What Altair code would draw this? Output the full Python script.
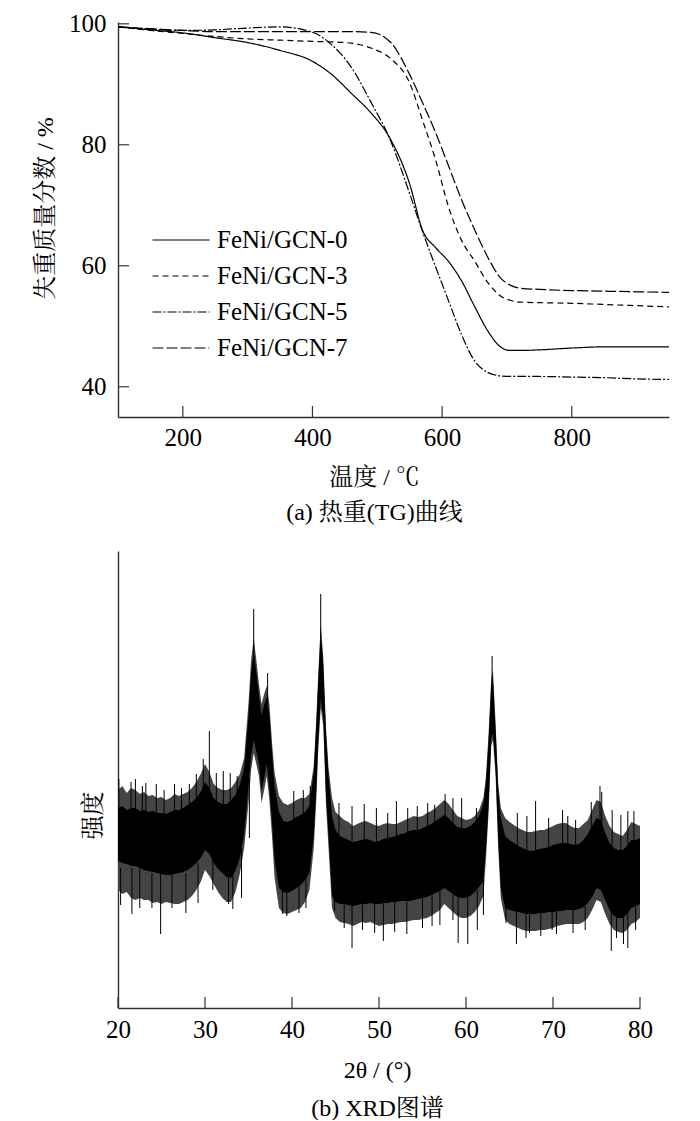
import altair as alt
import pandas as pd

FONT = "Liberation Serif, Times New Roman, Noto Serif CJK SC, Noto Sans CJK SC"

# ---------------- (a) TG curves ----------------
tg_temp = [100, 150, 200, 250, 300, 350, 400, 430, 460, 490, 520, 550, 570, 590,
           610, 630, 650, 670, 690, 705, 720, 750, 800, 850, 900, 950]
tg_gcn0 = [99.5, 99.0, 98.5, 97.7, 96.9, 95.6, 93.8, 91.6, 88.5, 85.3, 81.0, 73.5, 65.8, 63.0,
           60.7, 57.5, 53.3, 49.3, 46.6, 46.0, 46.0, 46.1, 46.4, 46.6, 46.6, 46.6]
tg_gcn3 = [99.5, 98.9, 98.4, 97.9, 97.5, 97.3, 97.1, 97.0, 96.8, 96.0, 94.3, 90.2, 84.0, 77.5,
           69.7, 64.2, 60.8, 57.3, 55.0, 54.3, 54.0, 53.9, 53.8, 53.6, 53.4, 53.2]
tg_gcn5 = [99.5, 99.1, 98.9, 99.0, 99.3, 99.5, 98.6, 96.5, 92.8, 87.1, 80.8, 71.9, 65.6, 59.8,
           54.2, 48.6, 44.3, 42.4, 41.8, 41.7, 41.7, 41.7, 41.6, 41.5, 41.3, 41.2]
tg_gcn7 = [99.5, 99.2, 98.9, 98.7, 98.7, 98.7, 98.7, 98.7, 98.7, 98.6, 97.0, 91.6, 86.9, 82.0,
           76.5, 70.9, 66.0, 61.5, 58.0, 56.8, 56.3, 56.1, 55.9, 55.8, 55.7, 55.6]
series_names = ["FeNi/GCN-0", "FeNi/GCN-3", "FeNi/GCN-5", "FeNi/GCN-7"]
dash_patterns = [[1, 0], [6, 4], [9, 2, 2, 2], [11, 3]]
tg_xticks = [200, 400, 600, 800]
tg_yticks = [40, 60, 80, 100]

# ---------------- (b) XRD pattern: noisy trace read as envelopes ----------------
# outer = tips of the noise whiskers, core = the solid black part of the trace
xrd_theta = [20.0, 20.5, 21.0, 21.5, 22.0, 22.5, 23.0, 23.5, 24.0, 24.5, 25.0, 25.5, 26.0, 26.5,
             27.0, 27.5, 28.0, 28.5, 29.0, 29.5, 30.0, 30.5, 31.0, 31.5, 32.0, 32.5, 33.0, 33.5,
             34.0, 34.5, 35.0, 35.3, 35.6, 35.9, 36.2, 36.5, 36.8, 37.1, 37.4, 37.7, 38.0, 38.5,
             39.0, 39.5, 40.0, 40.5, 41.0, 41.5, 42.0, 42.5, 42.8, 43.0, 43.3, 43.6, 43.9, 44.2,
             44.6, 45.0, 45.5, 46.0, 46.5, 47.0, 47.5, 48.0, 48.5, 49.0, 49.5, 50.0, 50.5, 51.0,
             51.5, 52.0, 52.5, 53.0, 53.5, 54.0, 54.5, 55.0, 55.5, 56.0, 56.5, 57.0, 57.5, 58.0,
             58.5, 59.0, 59.5, 60.0, 60.5, 61.0, 61.5, 62.0, 62.3, 62.6, 62.9, 63.1, 63.4, 63.7,
             64.0, 64.5, 65.0, 65.5, 66.0, 66.5, 67.0, 67.5, 68.0, 68.5, 69.0, 69.5, 70.0, 70.5,
             71.0, 71.5, 72.0, 72.5, 73.0, 73.5, 74.0, 74.5, 75.0, 75.5, 76.0, 76.5, 77.0, 77.5,
             78.0, 78.5, 79.0, 79.5, 80.0]
xrd_outer_top = [218, 222, 215, 220, 218, 214, 216, 212, 213, 210, 211, 208, 210, 214,
                 212, 214, 216, 220, 226, 234, 244, 236, 224, 220, 218, 218, 220, 226,
                 234, 250, 305, 348, 370, 348, 324, 304, 314, 322, 304, 266, 235, 212,
                 205, 203, 205, 208, 210, 210, 214, 242, 290, 330, 385, 350, 282, 240,
                 210, 196, 192, 188, 186, 182, 184, 186, 187, 185, 183, 182, 184, 185,
                 184, 184, 186, 188, 190, 192, 191, 192, 195, 197, 200, 204, 208, 204,
                 198, 192, 190, 188, 189, 192, 198, 210, 232, 275, 330, 338, 285, 225,
                 200, 190, 186, 183, 180, 178, 176, 176, 177, 178, 178, 180, 182, 184,
                 185, 185, 182, 180, 180, 184, 188, 198, 208, 206, 192, 182, 176, 174,
                 172, 178, 186, 184, 182]
xrd_outer_bottom = [118, 114, 116, 110, 108, 110, 108, 108, 105, 106, 104, 106, 105, 104,
                    104, 106, 108, 112, 118, 126, 138, 132, 124, 116, 110, 106, 106, 116,
                    134, 160, 205, 238, 255, 244, 232, 205, 218, 232, 208, 172, 130, 100,
                    95, 94, 96, 98, 100, 106, 118, 160, 210, 255, 300, 282, 205, 160,
                    100, 90, 86, 85, 84, 82, 84, 86, 85, 86, 84, 82, 83, 84,
                    84, 85, 86, 86, 87, 88, 88, 89, 90, 92, 95, 98, 104, 100,
                    96, 92, 90, 90, 92, 96, 102, 112, 150, 196, 262, 268, 232, 160,
                    110, 88, 84, 82, 80, 78, 77, 77, 77, 78, 78, 79, 80, 82,
                    83, 84, 84, 84, 84, 86, 90, 98, 108, 106, 94, 84, 78, 76,
                    75, 78, 84, 86, 90]
xrd_core_top = [200, 202, 198, 200, 200, 197, 198, 196, 197, 195, 195, 194, 196, 198,
                198, 200, 203, 206, 210, 216, 226, 220, 210, 206, 204, 204, 208, 213,
                223, 240, 292, 336, 356, 336, 313, 293, 303, 311, 293, 255, 222, 196,
                187, 186, 188, 191, 193, 196, 202, 235, 284, 324, 376, 342, 275, 232,
                192, 178, 172, 170, 168, 166, 167, 168, 169, 168, 166, 167, 169, 170,
                171, 172, 174, 175, 177, 178, 178, 180, 182, 184, 187, 190, 193, 190,
                185, 181, 180, 180, 182, 186, 192, 204, 226, 268, 322, 328, 278, 218,
                190, 172, 168, 165, 162, 160, 158, 157, 158, 159, 160, 161, 163, 164,
                165, 165, 164, 163, 164, 168, 174, 182, 190, 188, 175, 165, 160, 158,
                158, 162, 168, 168, 170]
xrd_core_bottom = [147, 145, 144, 142, 142, 140, 138, 137, 136, 135, 134, 133, 133, 134,
                   135, 136, 138, 141, 145, 150, 158, 154, 145, 139, 135, 131, 130, 137,
                   150, 174, 222, 252, 268, 256, 244, 217, 230, 244, 220, 186, 148, 120,
                   116, 115, 117, 120, 123, 128, 135, 172, 220, 264, 310, 290, 215, 172,
                   112, 106, 104, 104, 103, 102, 103, 104, 104, 105, 104, 104, 105, 105,
                   106, 106, 107, 107, 107, 108, 109, 110, 111, 113, 115, 117, 120, 117,
                   114, 111, 110, 110, 112, 116, 121, 127, 160, 204, 270, 275, 240, 170,
                   120, 100, 98, 97, 96, 95, 94, 94, 94, 95, 95, 96, 96, 97,
                   97, 98, 98, 98, 99, 101, 105, 111, 120, 118, 108, 98, 92, 90,
                   90, 94, 100, 102, 104]
spike_theta = [20.1, 21.5, 22.0, 22.8, 23.2, 24.4, 25.3, 26.5, 27.3, 28.2, 29.0, 29.8, 30.5,
               31.3, 32.1, 32.9, 33.7, 35.6, 37.2, 40.2, 41.3, 42.1, 43.3, 45.4, 46.9, 48.3,
               49.7, 51.0, 52.0, 53.3, 54.4, 55.6, 56.4, 57.6, 58.5, 59.5, 61.2, 63.0, 65.9,
               67.0, 68.0, 69.5, 71.1, 71.7, 72.6, 74.4, 75.4, 75.6, 76.8, 77.8, 78.6, 79.3,
               20.3, 21.6, 22.5, 23.9, 24.9, 26.2, 27.8, 29.2, 30.9, 32.7, 33.2, 34.2, 35.1,
               38.9, 39.4, 40.8, 41.6, 44.9, 46.0, 46.9, 48.1, 49.5, 50.5, 51.8, 53.2, 55.0,
               56.1, 57.0, 58.5, 59.1, 60.2, 61.3, 62.0, 64.6, 65.8, 66.9, 67.3, 68.6, 69.9,
               70.4, 72.3, 73.7, 76.7, 77.3, 78.1, 78.6, 79.5]
spike_from = [190, 190, 195, 190, 190, 185, 185, 185, 185, 190, 195, 210, 210,
              195, 190, 190, 200, 340, 300, 180, 185, 190, 370, 165, 160, 160,
              160, 160, 160, 165, 170, 175, 180, 185, 175, 170, 175, 320, 155,
              150, 150, 155, 160, 160, 160, 170, 180, 180, 160, 150, 155, 160,
              140, 140, 140, 135, 135, 135, 135, 145, 150, 140, 140, 160, 230,
              120, 120, 125, 130, 110, 110, 108, 108, 108, 108, 108, 110, 112,
              115, 118, 118, 112, 112, 118, 128, 105, 100, 98, 98, 98, 98,
              100, 100, 102, 100, 95, 94, 96, 104]
spike_to = [229, 226, 229, 222, 225, 224, 218, 224, 220, 224, 234, 249, 277,
            235, 237, 235, 232, 399, 335, 217, 218, 222, 414, 205, 202, 204,
            200, 195, 207, 200, 202, 205, 203, 214, 210, 210, 200, 352, 195,
            192, 207, 190, 198, 192, 188, 206, 222, 216, 198, 193, 197, 197,
            103, 94, 100, 100, 74, 100, 95, 105, 118, 104, 99, 110, 170,
            94, 92, 95, 100, 97, 80, 60, 78, 75, 67, 76, 74, 80,
            82, 83, 88, 65, 64, 78, 93, 85, 64, 70, 75, 72, 78,
            74, 75, 78, 57, 70, 64, 60, 78]
xrd_xticks = [20, 30, 40, 50, 60, 70, 80]

AX = "#333333"

# ---------------- build (a) ----------------
rows = []
for name, vals in zip(series_names, [tg_gcn0, tg_gcn3, tg_gcn5, tg_gcn7]):
    for t, v in zip(tg_temp, vals):
        rows.append({"T": t, "W": v, "s": name})
tg_df = pd.DataFrame(rows)

W1, H1 = 551, 395
xs1 = alt.Scale(domain=[100, 950], nice=False, zero=False)
ys1 = alt.Scale(domain=[35, 100.3], nice=False, zero=False)

tg_lines = alt.Chart(tg_df).mark_line(color="black", strokeWidth=1.2, interpolate="monotone").encode(
    x=alt.X("T:Q", scale=xs1, axis=alt.Axis(
        values=tg_xticks, ticks=False, tickSize=0, grid=False, domain=True,
        domainColor=AX, domainWidth=1.4, labelFont=FONT, labelFontSize=25, labelColor="black",
        labelPadding=8, labelFlush=False,
        title=["温度 / ℃", "(a) 热重(TG)曲线"], titleFont=FONT, titleFontSize=24,
        titleFontWeight="normal", titleColor="black", titleX=256, titleY=48,
        titleAlign="center", titleBaseline="top", titleLineHeight=35)),
    y=alt.Y("W:Q", scale=ys1, axis=alt.Axis(
        values=tg_yticks, ticks=False, tickSize=0, grid=False, domain=True,
        domainColor=AX, domainWidth=1.4, labelFont=FONT, labelFontSize=25, labelColor="black",
        labelPadding=12, labelFlush=False,
        title="失重质量分数 / %", titleFont=FONT, titleFontSize=24, titleFontWeight="normal",
        titleColor="black", titleX=-73, titleY=186, titleAlign="center", titleBaseline="middle",
        titleAngle=270)),
    strokeDash=alt.StrokeDash("s:N", scale=alt.Scale(domain=series_names, range=dash_patterns),
                              legend=alt.Legend(
                                  title=None, orient="none", legendX=48, legendY=203,
                                  symbolType="M-2,0H2", symbolSize=812, symbolStrokeWidth=1.2,
                                  symbolStrokeColor="black", symbolFillColor="transparent",
                                  labelFont=FONT, labelFontSize=25,
                                  labelColor="black", labelOffset=21, rowPadding=8, padding=0)),
)

tg_xt = alt.Chart(pd.DataFrame({"v": tg_xticks})).mark_rule(color=AX, strokeWidth=1.2).encode(
    x=alt.X("v:Q", scale=xs1), y=alt.value(H1), y2=alt.value(H1 - 11))
tg_yt = alt.Chart(pd.DataFrame({"v": tg_yticks})).mark_rule(color=AX, strokeWidth=1.2).encode(
    y=alt.Y("v:Q", scale=ys1), x=alt.value(0), x2=alt.value(11))

chart_a = alt.layer(tg_lines, tg_xt, tg_yt).properties(width=W1, height=H1)

# ---------------- build (b) ----------------
band_df = pd.DataFrame({"theta": xrd_theta, "ot": xrd_outer_top, "ob": xrd_outer_bottom,
                        "ct": xrd_core_top, "cb": xrd_core_bottom})
spike_df = pd.DataFrame({"theta": spike_theta, "a": spike_from, "b": spike_to})

W2, H2 = 522, 457
xs2 = alt.Scale(domain=[20, 80], nice=False, zero=False)
ys2 = alt.Scale(domain=[0, 457], nice=False, zero=False)

fringe = alt.Chart(band_df).mark_area(color="#444444", opacity=1, interpolate="linear").encode(
    x=alt.X("theta:Q", scale=xs2, axis=alt.Axis(
        values=xrd_xticks, ticks=False, tickSize=0, grid=False, domain=True,
        domainColor=AX, domainWidth=1.4, labelFont=FONT, labelFontSize=25, labelColor="black",
        labelPadding=9, labelFlush=False,
        title=["2θ / (°)", "(b) XRD图谱"], titleFont=FONT, titleFontSize=24,
        titleFontWeight="normal", titleColor="black", titleX=259, titleY=50,
        titleAlign="center", titleBaseline="top", titleLineHeight=38)),
    y=alt.Y("ot:Q", scale=ys2, axis=alt.Axis(
        values=[0], ticks=False, labels=False, grid=False, domain=True,
        domainColor=AX, domainWidth=1.4,
        title="强度", titleFont=FONT, titleFontSize=24, titleFontWeight="normal",
        titleColor="black", titleX=-25, titleY=264, titleAlign="center",
        titleBaseline="middle", titleAngle=270)),
    y2="ob:Q",
)
core = alt.Chart(band_df).mark_area(color="black", opacity=1, interpolate="linear").encode(
    x=alt.X("theta:Q", scale=xs2), y=alt.Y("ct:Q", scale=ys2), y2="cb:Q")
spikes = alt.Chart(spike_df).mark_rule(color="black", strokeWidth=1).encode(
    x=alt.X("theta:Q", scale=xs2),
    y=alt.Y("a:Q", scale=ys2), y2="b:Q")
xrd_xt = alt.Chart(pd.DataFrame({"v": xrd_xticks})).mark_rule(color=AX, strokeWidth=1.2).encode(
    x=alt.X("v:Q", scale=xs2), y=alt.value(H2), y2=alt.value(H2 - 11))

chart_b = alt.layer(fringe, core, spikes, xrd_xt).properties(width=W2, height=H2)

chart = alt.vconcat(chart_a, chart_b, spacing=134, bounds="flush").properties(
    padding={"left": 25, "top": 3, "right": 5, "bottom": 0},
    background="white",
).configure_view(stroke=None)

chart.save("out.html", embed_options={"renderer": "svg", "actions": False})
